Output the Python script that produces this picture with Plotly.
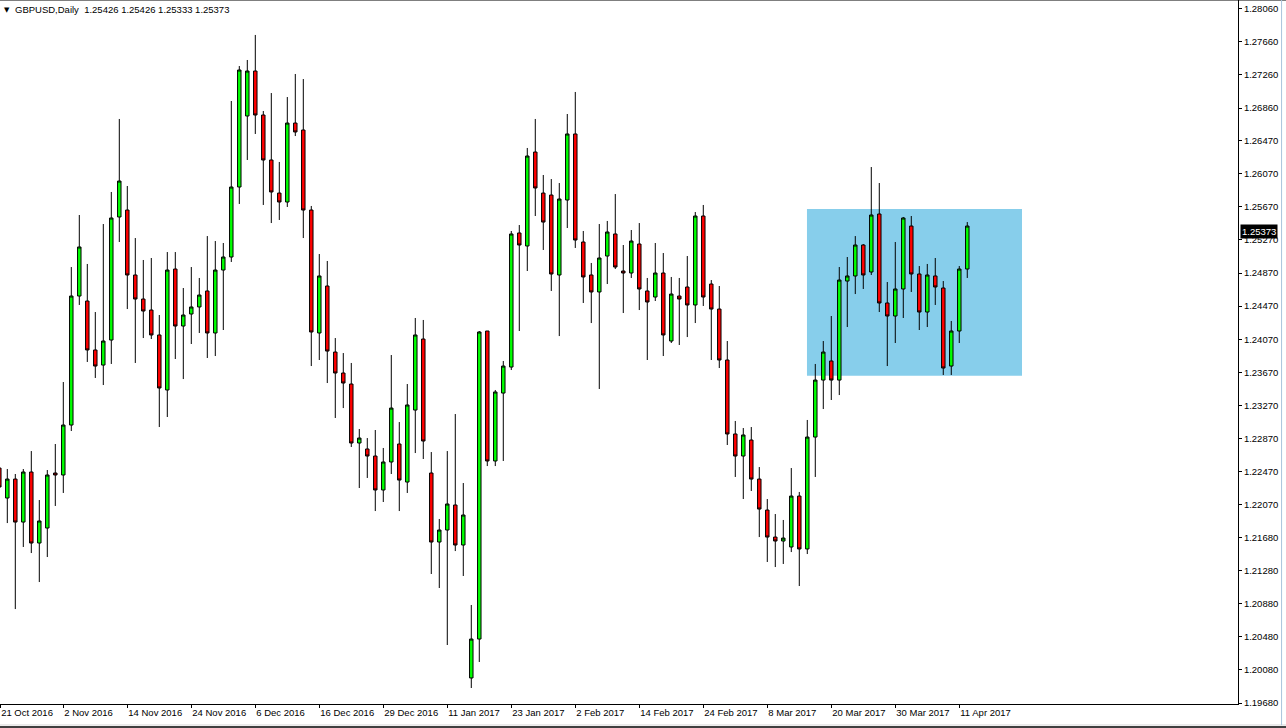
import plotly.graph_objects as go

# ---------------- data (bar index -1 .. 120, daily GBPUSD) ----------------
bar_index = list(range(-1, 121))

opens = [
    1.22516, 1.22154, 1.22383, 1.21864, 1.22468, 1.21611, 1.21792, 1.22456, 1.22432, 1.23035, 1.24592,
    1.24532, 1.23941, 1.23759, 1.24061, 1.25546, 1.25630, 1.24846, 1.24556, 1.24423, 1.24122,
    1.23458, 1.24918, 1.24230, 1.24375, 1.24460, 1.24653, 1.24146, 1.24906, 1.25063, 1.25908,
    1.26765, 1.27308, 1.26777, 1.26234, 1.25835, 1.25727, 1.26680, 1.26596, 1.25630, 1.24146,
    1.24713, 1.23916, 1.23663, 1.23530, 1.22818, 1.22746, 1.22661, 1.22251, 1.22589, 1.22806,
    1.22347, 1.23216, 1.24073, 1.22456, 1.21623, 1.21768, 1.22070, 1.21587, 1.19982, 1.20452,
    1.24170, 1.22601, 1.23421, 1.23735, 1.25353, 1.25196, 1.26330, 1.25835, 1.25811, 1.24846,
    1.25751, 1.26548, 1.25244, 1.24846, 1.24641, 1.25075, 1.25341, 1.24894, 1.24870, 1.25220,
    1.24653, 1.24580, 1.24870, 1.24049, 1.24592, 1.24701, 1.24484, 1.25558, 1.24737, 1.24435,
    1.23820, 1.22927, 1.22661, 1.22854, 1.22383, 1.22009, 1.21683, 1.21635, 1.21563, 1.22178,
    1.21539, 1.22890, 1.23578, 1.23808, 1.23578, 1.24773, 1.24834, 1.25208, 1.24882, 1.25582,
    1.24508, 1.24351, 1.24677, 1.25437, 1.24858, 1.24399, 1.24834, 1.24689, 1.23747, 1.24170, 1.24918,
]
highs = [
    1.22552, 1.22504, 1.22444, 1.22504, 1.22721, 1.22130, 1.22492, 1.22806, 1.23554, 1.24942, 1.25570,
    1.24979, 1.24399, 1.25461, 1.25848, 1.26729, 1.25920, 1.25292, 1.25027, 1.25051, 1.24363,
    1.25123, 1.25123, 1.24689, 1.24942, 1.24810, 1.25316, 1.25256, 1.25232, 1.26946, 1.27368,
    1.27441, 1.27743, 1.26825, 1.27042, 1.26210, 1.26994, 1.27272, 1.27211, 1.25679, 1.25099,
    1.25015, 1.24085, 1.23904, 1.23784, 1.22987, 1.22878, 1.22975, 1.22758, 1.23880, 1.23071,
    1.23530, 1.24327, 1.24303, 1.22709, 1.21901, 1.22721, 1.23168, 1.22335, 1.20863, 1.24170,
    1.24170, 1.23458, 1.23808, 1.25377, 1.25449, 1.26379, 1.26729, 1.26053, 1.26004, 1.25956,
    1.26789, 1.27055, 1.25377, 1.24991, 1.25461, 1.25498, 1.25823, 1.25208, 1.25389, 1.25473,
    1.24810, 1.25232, 1.25111, 1.24822, 1.24810, 1.25075, 1.25606, 1.25691, 1.24785, 1.24713,
    1.24049, 1.23084, 1.22999, 1.23011, 1.22528, 1.22142, 1.21961, 1.21889, 1.22516, 1.22227,
    1.23096, 1.23772, 1.24049, 1.24351, 1.24942, 1.25063, 1.25316, 1.25220, 1.26149, 1.25956,
    1.24761, 1.25244, 1.25546, 1.25558, 1.24954, 1.24979, 1.25051, 1.24773, 1.24291, 1.24954, 1.25485,
]
lows = [
    1.22251, 1.21852, 1.20814, 1.21563, 1.21490, 1.21140, 1.21442, 1.22058, 1.22215, 1.22963, 1.24484,
    1.23796, 1.23603, 1.23518, 1.23772, 1.25244, 1.24435, 1.23784, 1.24085, 1.24073, 1.23011,
    1.23132, 1.23832, 1.23590, 1.24013, 1.24146, 1.23844, 1.23868, 1.24182, 1.25003, 1.25703,
    1.26234, 1.26548, 1.25691, 1.25473, 1.25510, 1.25667, 1.26523, 1.25292, 1.23747, 1.23820,
    1.23542, 1.23120, 1.23240, 1.22770, 1.22275, 1.22396, 1.21997, 1.22106, 1.22444, 1.21997,
    1.22215, 1.22697, 1.22625, 1.21237, 1.21068, 1.20380, 1.21514, 1.21213, 1.19861, 1.20175,
    1.22540, 1.22540, 1.22601, 1.23699, 1.24170, 1.24894, 1.25558, 1.25148, 1.24653, 1.24109,
    1.25413, 1.25172, 1.24508, 1.24266, 1.23470, 1.24737, 1.24918, 1.24387, 1.24810, 1.24423,
    1.23820, 1.24532, 1.23868, 1.24025, 1.24001, 1.24097, 1.24266, 1.24472, 1.23820, 1.23723,
    1.22794, 1.22408, 1.22142, 1.22239, 1.21683, 1.21382, 1.21321, 1.21358, 1.21502, 1.21092,
    1.21478, 1.22408, 1.23228, 1.23337, 1.23397, 1.24218, 1.24616, 1.24677, 1.24846, 1.24399,
    1.23747, 1.24025, 1.24327, 1.24641, 1.24182, 1.24218, 1.24484, 1.23639, 1.23639, 1.24025, 1.24810,
]
closes = [
    1.22287, 1.22383, 1.21864, 1.22468, 1.21611, 1.21877, 1.22432, 1.22432, 1.23035, 1.24592, 1.25184,
    1.23941, 1.23747, 1.24049, 1.25534, 1.25980, 1.24846, 1.24556, 1.24411, 1.24122, 1.23482,
    1.24906, 1.24230, 1.24363, 1.24460, 1.24604, 1.24146, 1.24906, 1.25063, 1.25908, 1.27320,
    1.27308, 1.26777, 1.26234, 1.25848, 1.25727, 1.26680, 1.26572, 1.25630, 1.24158, 1.24834,
    1.23928, 1.23663, 1.23542, 1.22818, 1.22878, 1.22661, 1.22251, 1.22589, 1.23240, 1.22371,
    1.23277, 1.24122, 1.22842, 1.21623, 1.21768, 1.22082, 1.21587, 1.21949, 1.20452, 1.24158,
    1.22601, 1.23434, 1.23747, 1.25341, 1.25208, 1.26282, 1.25896, 1.25485, 1.24858, 1.25763,
    1.26548, 1.25268, 1.24822, 1.24641, 1.25051, 1.25365, 1.24942, 1.24870, 1.25256, 1.24677,
    1.24520, 1.24870, 1.24122, 1.24616, 1.24556, 1.24484, 1.25558, 1.24580, 1.24435, 1.23820,
    1.22927, 1.22661, 1.22915, 1.22383, 1.22021, 1.21683, 1.21635, 1.21671, 1.22178, 1.21539,
    1.22890, 1.23578, 1.23916, 1.23578, 1.24785, 1.24834, 1.25208, 1.24846, 1.25570, 1.24508,
    1.24351, 1.24677, 1.25534, 1.24858, 1.24399, 1.24846, 1.24701, 1.23723, 1.24170, 1.24918, 1.25437,
]

date_labels = ["21 Oct 2016", "2 Nov 2016", "14 Nov 2016", "24 Nov 2016", "6 Dec 2016",
               "16 Dec 2016", "29 Dec 2016", "11 Jan 2017", "23 Jan 2017", "2 Feb 2017",
               "14 Feb 2017", "24 Feb 2017", "8 Mar 2017", "20 Mar 2017", "30 Mar 2017",
               "11 Apr 2017"]
label_step = 8  # one date label every 8 bars, starting at the first bar

price_labels = ["1.28060", "1.27660", "1.27260", "1.26860", "1.26470", "1.26070", "1.25670",
                "1.25270", "1.24870", "1.24470", "1.24070", "1.23670", "1.23270", "1.22870",
                "1.22470", "1.22070", "1.21680", "1.21280", "1.20880", "1.20480", "1.20080",
                "1.19680"]

header_text = "GBPUSD,Daily  1.25426 1.25426 1.25333 1.25373"
last_price = 1.25373

# consolidation zone (bar range and price range)
zone_bar_start = 99.96
zone_bar_end = 126.84
zone_top = 1.25642
zone_bottom = 1.23630

# axis ranges
x_range = [-0.9125, 153.84]
y_range = [1.19668, 1.28165]

# ---------------- figure ----------------
FONT = "Liberation Sans, Arial, sans-serif"

fig = go.Figure()
fig.add_trace(go.Candlestick(
    x=bar_index, open=opens, high=highs, low=lows, close=closes,
    increasing=dict(fillcolor="#00FF00", line=dict(color="black", width=1)),
    decreasing=dict(fillcolor="#FF0000", line=dict(color="black", width=1)),
    whiskerwidth=0,
    showlegend=False,
    hoverinfo="x+y",
))

# date labels every 8 bars; the first one sits on the (partly hidden) first bar,
# so keep its tick just inside the visible range
tick_bars = [bar_index[0] + label_step * k for k in range(len(date_labels))]
tick_bars[0] = max(tick_bars[0], x_range[0] + 0.02)

fig.update_layout(
    width=1286, height=728,
    margin=dict(l=0, r=48, t=0, b=24),
    paper_bgcolor="white", plot_bgcolor="white",
    boxgap=0.38,
    font=dict(family=FONT, size=9.5, color="black"),
    xaxis=dict(
        range=x_range, rangeslider=dict(visible=False),
        showgrid=False, zeroline=False,
        showline=True, linecolor="black", linewidth=1,
        tickmode="array", tickvals=tick_bars, ticktext=date_labels,
        ticks="outside", ticklen=3, tickcolor="black", tickwidth=1,
        ticklabelposition="outside right",
        tickfont=dict(family=FONT, size=9.5, color="black"),
        fixedrange=True,
    ),
    yaxis=dict(
        range=y_range, side="right",
        showgrid=False, zeroline=False,
        showline=True, linecolor="black", linewidth=1,
        tickmode="array", tickvals=[float(v) for v in price_labels], ticktext=price_labels,
        ticks="outside", ticklen=3, tickcolor="black", tickwidth=1,
        tickfont=dict(family=FONT, size=9.5, color="black"),
        fixedrange=True,
    ),
    shapes=[
        dict(type="rect", xref="x", yref="y", layer="below",
             x0=zone_bar_start, x1=zone_bar_end, y0=zone_bottom, y1=zone_top,
             fillcolor="#87CEEB", line=dict(width=0)),
        # window frame
        dict(type="line", xref="paper", yref="paper", x0=0, x1=1.04, y0=1, y1=1,
             line=dict(color="black", width=1)),
        dict(type="line", xref="paper", yref="paper", x0=0, x1=1.04, y0=-0.0298, y1=-0.0298,
             line=dict(color="#d8d8d8", width=1)),
        dict(type="line", xref="paper", yref="paper", x0=0, x1=1.04, y0=-0.0327, y1=-0.0327,
             line=dict(color="black", width=1.5)),
        dict(type="line", xref="paper", yref="paper", x0=1.0352, x1=1.0352, y0=-0.03, y1=1,
             line=dict(color="#a9c4dc", width=1)),
    ],
    annotations=[
        dict(xref="paper", yref="paper", x=2 / 1238, y=1 - 10 / 704,
             xanchor="left", yanchor="middle", showarrow=False,
             text="\u25BC", font=dict(family="DejaVu Sans", size=7, color="black")),
        dict(xref="paper", yref="paper", x=13 / 1238, y=1 - 10 / 704,
             xanchor="left", yanchor="middle", showarrow=False,
             text=header_text,
             font=dict(family=FONT, size=9.5, color="black")),
        dict(xref="paper", yref="y", x=1, y=last_price, xanchor="left", yanchor="middle",
             xshift=2, showarrow=False, text=str(last_price), bgcolor="black",
             borderpad=1, font=dict(family=FONT, size=9.5, color="white")),
    ],
)

fig.write_html("out.html", config={"displayModeBar": False},
               post_script="document.body.style.margin='0';document.body.style.overflow='hidden';")
